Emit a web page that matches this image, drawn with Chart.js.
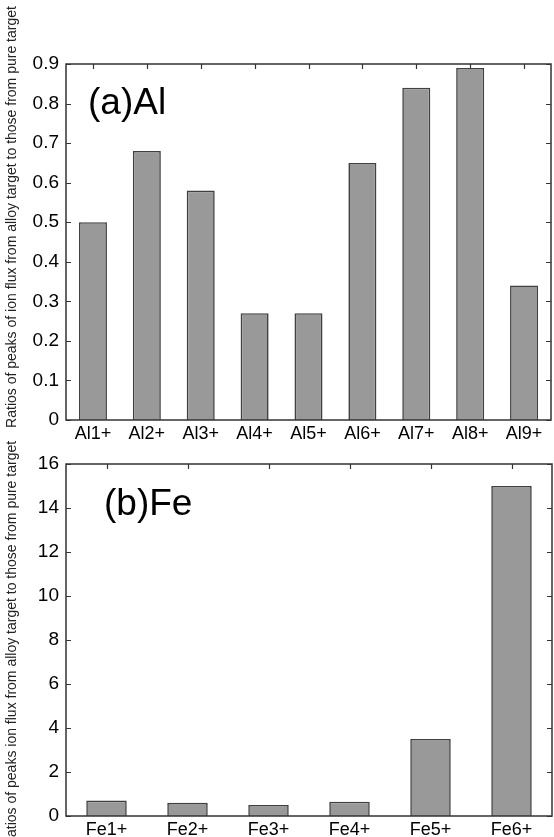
<!DOCTYPE html>
<html>
<head>
<meta charset="utf-8">
<script src="https://cdn.jsdelivr.net/npm/chart.js@4/dist/chart.umd.min.js"></script>
<style>
  html, body { margin: 0; padding: 0; background: #fff; }
  canvas { display: block; }
</style>
</head>
<body>
<canvas id="alChart" width="554" height="440"></canvas>
<canvas id="feChart" width="554" height="397"></canvas>
<script>
// ---- data ----
const alCategories = ['Al1+', 'Al2+', 'Al3+', 'Al4+', 'Al5+', 'Al6+', 'Al7+', 'Al8+', 'Al9+'];
const alValues = [0.5, 0.68, 0.58, 0.27, 0.27, 0.65, 0.84, 0.89, 0.34];
const alYTickLabels = ['0', '0.1', '0.2', '0.3', '0.4', '0.5', '0.6', '0.7', '0.8', '0.9'];
const alPanelLabel = '(a)Al';
const alYTitle = 'Ratios of peaks of ion flux from alloy target to those from pure target';

const feCategories = ['Fe1+', 'Fe2+', 'Fe3+', 'Fe4+', 'Fe5+', 'Fe6+'];
const feValues = [0.7, 0.6, 0.5, 0.65, 3.5, 15];
const feYTickLabels = ['0', '2', '4', '6', '8', '10', '12', '14', '16'];
const fePanelLabel = '(b)Fe';
const feYTitle = 'Ratios of peaks ion flux from alloy target to those from pure target';

const FONT = '"Liberation Sans", Arial, Helvetica, sans-serif';

const framePlugin = {
  id: 'frame',
  afterDatasetsDraw(chart, args, o) {
    const ctx = chart.ctx;
    const a = chart.chartArea;
    const x = chart.scales.x, y = chart.scales.y;
    ctx.save();
    ctx.strokeStyle = '#333';
    ctx.lineWidth = 1.5;
    ctx.strokeRect(a.left, a.top, a.right - a.left, a.bottom - a.top);
    ctx.lineWidth = 1.2;
    ctx.beginPath();
    y.ticks.forEach(t => {
      const py = Math.round(y.getPixelForValue(t.value)) + 0.5;
      ctx.moveTo(a.left, py); ctx.lineTo(a.left + 5, py);
      ctx.moveTo(a.right, py); ctx.lineTo(a.right - 5, py);
    });
    x.ticks.forEach((t, i) => {
      const px = Math.round(x.getPixelForTick(i)) + 0.5;
      ctx.moveTo(px, a.top); ctx.lineTo(px, a.top + 5);
    });
    ctx.stroke();
    ctx.fillStyle = '#000';
    ctx.font = '37px ' + FONT;
    ctx.textAlign = 'left';
    ctx.textBaseline = 'alphabetic';
    ctx.fillText(o.label, o.labelX, o.labelY);
    ctx.translate(o.titleX, o.titleY);
    ctx.rotate(-Math.PI / 2);
    ctx.font = '14px ' + FONT;
    ctx.textAlign = 'center';
    ctx.textBaseline = 'middle';
    ctx.fillStyle = '#222';
    ctx.fillText(o.title, 0, 0);
    ctx.restore();
  }
};

function makeChart(id, cats, vals, yLabels, barPct, pad, xHeight, frameOpts) {
  const yVals = yLabels.map(Number);
  return new Chart(document.getElementById(id), {
    type: 'bar',
    data: {
      labels: cats,
      datasets: [{
        data: vals,
        backgroundColor: '#999999',
        borderColor: '#404040',
        borderWidth: 1.6,
        barPercentage: barPct,
        categoryPercentage: 1.0
      }]
    },
    options: {
      responsive: false,
      animation: false,
      devicePixelRatio: 1,
      layout: { padding: pad },
      plugins: {
        legend: { display: false },
        tooltip: { enabled: false },
        frame: frameOpts
      },
      scales: {
        x: {
          grid: { display: false, drawTicks: false },
          border: { display: false },
          ticks: {
            color: '#000', padding: 3, autoSkip: false, maxRotation: 0,
            font: { family: FONT, size: 18 }
          },
          afterFit: s => { s.height = xHeight; }
        },
        y: {
          min: yVals[0],
          max: yVals[yVals.length - 1],
          grid: { display: false, drawTicks: false },
          border: { display: false },
          afterBuildTicks: s => { s.ticks = yVals.map(v => ({ value: v })); },
          ticks: {
            color: '#000', padding: 7,
            font: { family: FONT, size: 19 },
            callback: (v, i) => yLabels[i]
          },
          afterFit: s => { s.width = 66; }
        }
      }
    },
    plugins: [framePlugin]
  });
}

makeChart('alChart', alCategories, alValues, alYTickLabels, 0.52,
  { top: 64, right: 3, left: 0, bottom: 0 }, 20,
  { label: alPanelLabel, labelX: 88, labelY: 114, title: alYTitle, titleX: 12, titleY: 217 });

makeChart('feChart', feCategories, feValues, feYTickLabels, 0.5,
  { top: 24, right: 2, left: 0, bottom: 0 }, 21,
  { label: fePanelLabel, labelX: 104, labelY: 75, title: feYTitle, titleX: 12, titleY: 204 });
</script>
</body>
</html>
